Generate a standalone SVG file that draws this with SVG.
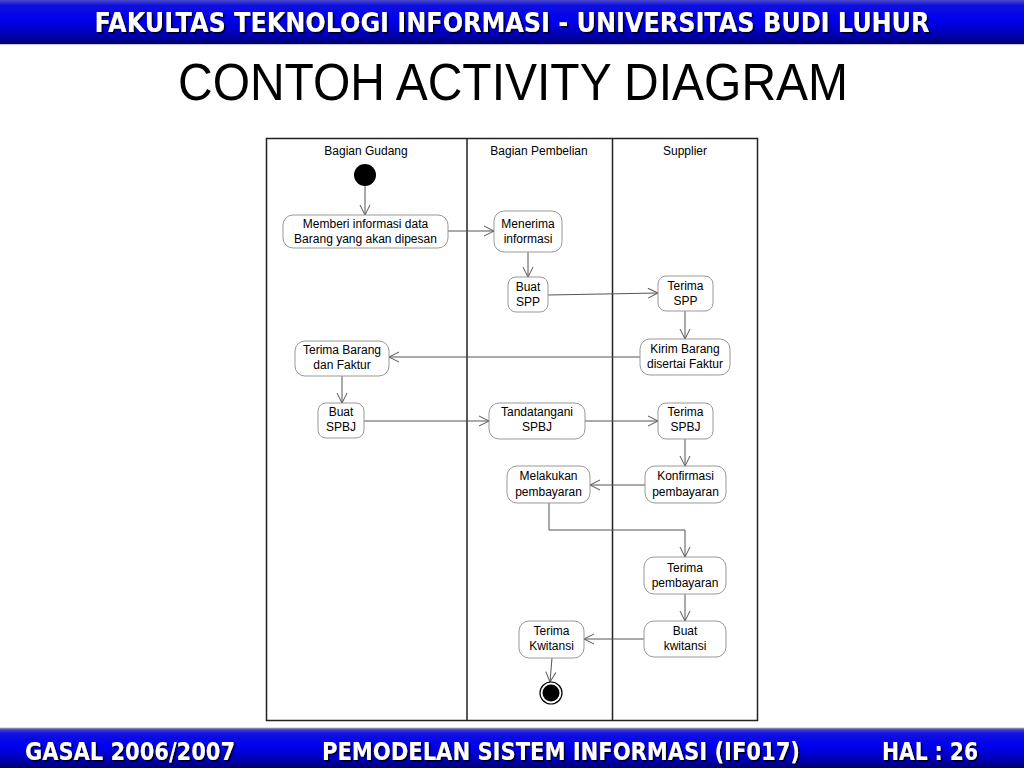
<svg xmlns="http://www.w3.org/2000/svg" width="1024" height="768" viewBox="0 0 1024 768">
<defs>
<linearGradient id="bar" x1="0" y1="0" x2="0" y2="1">
<stop offset="0" stop-color="#4a4ac8"/>
<stop offset="0.12" stop-color="#1010e0"/>
<stop offset="0.45" stop-color="#0000f0"/>
<stop offset="0.8" stop-color="#0000b0"/>
<stop offset="1" stop-color="#000070"/>
</linearGradient>
<marker id="arr" viewBox="0 0 12 12" refX="11" refY="6" markerWidth="12" markerHeight="12" markerUnits="userSpaceOnUse" orient="auto">
<path d="M1,1 L11,6 L1,11" fill="none" stroke="#555" stroke-width="1"/>
</marker>
<filter id="sh" x="-5%" y="-20%" width="110%" height="140%">
<feDropShadow dx="1.5" dy="1.5" stdDeviation="0.6" flood-color="#000" flood-opacity="0.9"/>
</filter>
</defs>
<style>
.bar{fill:url(#bar)}
.bt{font-family:"DejaVu Sans","Liberation Sans",sans-serif;font-weight:bold;fill:#fff;filter:url(#sh)}
.title{font-family:"Liberation Sans",Arial,sans-serif;font-size:52px;fill:#000}
.lane{fill:none;stroke:#222;stroke-width:1.5}
.lt{font-family:"Liberation Sans",Arial,sans-serif;font-size:12px;fill:#000;text-anchor:middle}
.node rect{fill:#fff;stroke:#999;stroke-width:1}
.node text{font-family:"Liberation Sans",Arial,sans-serif;font-size:12px;fill:#000;text-anchor:middle}
.c{fill:none;stroke:#555;stroke-width:1;marker-end:url(#arr)}
</style>
<rect width="1024" height="768" fill="#fff"/>
<rect class="bar" x="0" y="0" width="1024" height="44"/>
<line x1="0" y1="44.5" x2="1024" y2="44.5" stroke="#c8c8e8" stroke-width="1"/>
<text class="bt" x="512" y="32" font-size="26" text-anchor="middle" textLength="835" lengthAdjust="spacingAndGlyphs">FAKULTAS TEKNOLOGI INFORMASI - UNIVERSITAS BUDI LUHUR</text>
<text class="title" x="513" y="100" text-anchor="middle" textLength="670" lengthAdjust="spacingAndGlyphs">CONTOH ACTIVITY DIAGRAM</text>

<g id="swimlanes">
<rect class="lane" x="266.5" y="138.5" width="491" height="582"/>
<line class="lane" x1="467" y1="138" x2="467" y2="721"/>
<line class="lane" x1="612.5" y1="138" x2="612.5" y2="721"/>
<text class="lt" x="366" y="155">Bagian Gudang</text>
<text class="lt" x="539" y="155">Bagian Pembelian</text>
<text class="lt" x="685" y="155">Supplier</text>
</g>

<g id="connectors">
<path class="c" d="M365,186 L365,215"/>
<path class="c" d="M448,231 L494,231"/>
<path class="c" d="M528,252 L528,277"/>
<path class="c" d="M548,295 L658,293"/>
<path class="c" d="M685,311 L685,339"/>
<path class="c" d="M640,357 L389,357"/>
<path class="c" d="M342,376 L342,403"/>
<path class="c" d="M364,421 L489,421"/>
<path class="c" d="M585,421 L658,421"/>
<path class="c" d="M685,439 L685,466"/>
<path class="c" d="M645,485 L590,485"/>
<path class="c" d="M549,503 L549,530 L685,530 L685,557"/>
<path class="c" d="M685,594 L685,621"/>
<path class="c" d="M644,639 L584,639"/>
<path class="c" d="M552,658 L550,682"/>
</g>

<g id="start"><circle cx="365" cy="175" r="11" fill="#000"/></g>

<g id="n1" class="node"><rect x="283" y="215" width="165" height="33" rx="10"/><text x="365.5" y="228">Memberi informasi data</text><text x="365.5" y="243">Barang yang akan dipesan</text></g>
<g id="n2" class="node"><rect x="494" y="211" width="68" height="41" rx="10"/><text x="528" y="228">Menerima</text><text x="528" y="243">informasi</text></g>
<g id="n3" class="node"><rect x="508" y="277" width="40" height="35" rx="8"/><text x="528" y="291">Buat</text><text x="528" y="306">SPP</text></g>
<g id="n4" class="node"><rect x="658" y="276" width="55" height="35" rx="8"/><text x="685.5" y="290">Terima</text><text x="685.5" y="305">SPP</text></g>
<g id="n5" class="node"><rect x="640" y="339" width="90" height="36" rx="10"/><text x="685" y="353">Kirim Barang</text><text x="685" y="368">disertai Faktur</text></g>
<g id="n6" class="node"><rect x="295" y="341" width="94" height="35" rx="10"/><text x="342" y="354">Terima Barang</text><text x="342" y="369">dan Faktur</text></g>
<g id="n7" class="node"><rect x="318" y="403" width="46" height="35" rx="8"/><text x="341" y="416">Buat</text><text x="341" y="431">SPBJ</text></g>
<g id="n8" class="node"><rect x="489" y="403" width="96" height="36" rx="10"/><text x="537" y="416">Tandatangani</text><text x="537" y="431">SPBJ</text></g>
<g id="n9" class="node"><rect x="658" y="403" width="55" height="36" rx="8"/><text x="685.5" y="416">Terima</text><text x="685.5" y="431">SPBJ</text></g>
<g id="n10" class="node"><rect x="507" y="466" width="83" height="37" rx="10"/><text x="548.5" y="480">Melakukan</text><text x="548.5" y="496">pembayaran</text></g>
<g id="n11" class="node"><rect x="645" y="466" width="81" height="37" rx="10"/><text x="685.5" y="480">Konfirmasi</text><text x="685.5" y="496">pembayaran</text></g>
<g id="n12" class="node"><rect x="644" y="557" width="82" height="37" rx="10"/><text x="685" y="572">Terima</text><text x="685" y="587">pembayaran</text></g>
<g id="n13" class="node"><rect x="644" y="621" width="82" height="36" rx="10"/><text x="685" y="635">Buat</text><text x="685" y="650">kwitansi</text></g>
<g id="n14" class="node"><rect x="519" y="621" width="65" height="37" rx="10"/><text x="551.5" y="635">Terima</text><text x="551.5" y="650">Kwitansi</text></g>

<g id="end"><circle cx="551" cy="693" r="11" fill="#fff" stroke="#000" stroke-width="1.2"/><circle cx="551" cy="693" r="8.5" fill="#000"/></g>

<rect class="bar" x="0" y="729" width="1024" height="39"/>
<line x1="0" y1="728.5" x2="1024" y2="728.5" stroke="#8080c0" stroke-width="1.5"/>
<text class="bt" x="25" y="760" font-size="24" textLength="210" lengthAdjust="spacingAndGlyphs">GASAL 2006/2007</text>
<text class="bt" x="322" y="760" font-size="24" textLength="478" lengthAdjust="spacingAndGlyphs">PEMODELAN SISTEM INFORMASI (IF017)</text>
<text class="bt" x="882" y="760" font-size="24" textLength="96" lengthAdjust="spacingAndGlyphs">HAL : 26</text>
</svg>
